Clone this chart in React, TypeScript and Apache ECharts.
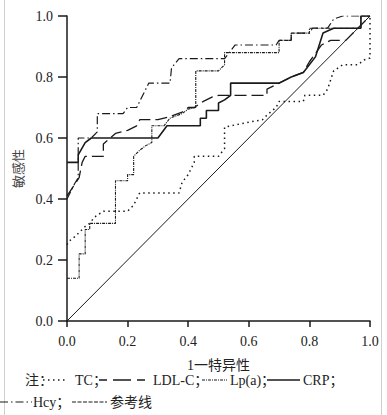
import React, { useEffect, useRef } from "react";
import * as echarts from "echarts";

// ROC points: [1 - specificity, sensitivity]
const tcRoc: number[][] = [
  [0, 0.25], [0.005, 0.26], [0.03, 0.28], [0.06, 0.31], [0.075, 0.32], [0.09, 0.34],
  [0.12, 0.36], [0.2, 0.36], [0.22, 0.38], [0.24, 0.42], [0.37, 0.42], [0.38, 0.455],
  [0.4, 0.48], [0.42, 0.52], [0.42, 0.54], [0.5, 0.54], [0.52, 0.565], [0.52, 0.635],
  [0.54, 0.64], [0.59, 0.65], [0.645, 0.66], [0.66, 0.675], [0.69, 0.7], [0.7, 0.72],
  [0.78, 0.72], [0.785, 0.74], [0.845, 0.74], [0.86, 0.76], [0.88, 0.82], [0.91, 0.84],
  [0.96, 0.84], [0.98, 0.856], [1, 0.862], [1, 1],
];
const ldlRoc: number[][] = [
  [0, 0.41], [0.02, 0.44], [0.04, 0.47], [0.05, 0.52], [0.06, 0.54], [0.12, 0.54],
  [0.12, 0.58], [0.16, 0.615], [0.2, 0.625], [0.23, 0.64], [0.24, 0.66], [0.3, 0.66],
  [0.34, 0.67], [0.38, 0.685], [0.4, 0.7], [0.42, 0.7], [0.45, 0.72], [0.48, 0.735],
  [0.5, 0.74], [0.66, 0.74], [0.66, 0.76], [0.7, 0.78], [0.74, 0.8], [0.78, 0.815],
  [0.8, 0.85], [0.84, 0.905], [0.87, 0.92], [0.92, 0.92], [1, 1],
];
const lpaRoc: number[][] = [
  [0, 0.14], [0.04, 0.14], [0.04, 0.22], [0.06, 0.22], [0.06, 0.3], [0.075, 0.3],
  [0.075, 0.32], [0.16, 0.32], [0.16, 0.46], [0.2, 0.46], [0.2, 0.48], [0.22, 0.48],
  [0.22, 0.54], [0.24, 0.56], [0.26, 0.575], [0.28, 0.585], [0.28, 0.64], [0.32, 0.64],
  [0.34, 0.665], [0.38, 0.68], [0.4, 0.695], [0.425, 0.7], [0.425, 0.82], [0.5, 0.82],
  [0.52, 0.84], [0.52, 0.88], [0.7, 0.88], [0.7, 0.92], [0.74, 0.92], [0.74, 0.944],
  [0.8, 0.944], [0.8, 0.96], [0.97, 0.96], [0.97, 1], [1, 1],
];
const crpRoc: number[][] = [
  [0, 0.52], [0.037, 0.52], [0.037, 0.545], [0.06, 0.585], [0.08, 0.6], [0.3, 0.6],
  [0.33, 0.64], [0.44, 0.64], [0.44, 0.665], [0.46, 0.665], [0.46, 0.69], [0.5, 0.69],
  [0.5, 0.715], [0.52, 0.725], [0.54, 0.74], [0.54, 0.78], [0.7, 0.78], [0.74, 0.8],
  [0.78, 0.815], [0.82, 0.866], [0.845, 0.944], [0.88, 0.96], [0.97, 0.96], [0.97, 1], [1, 1],
];
const hcyRoc: number[][] = [
  [0, 0.4], [0.01, 0.42], [0.025, 0.45], [0.037, 0.47], [0.037, 0.6], [0.08, 0.6],
  [0.1, 0.62], [0.1, 0.68], [0.185, 0.68], [0.2, 0.7], [0.23, 0.7], [0.25, 0.74],
  [0.27, 0.78], [0.34, 0.78], [0.345, 0.83], [0.37, 0.86], [0.52, 0.86], [0.555, 0.905],
  [0.69, 0.905], [0.7, 0.92], [0.74, 0.92], [0.74, 0.944], [0.8, 0.944], [0.81, 0.96],
  [0.86, 0.96], [0.88, 0.99], [0.91, 1], [1, 1],
];
const refLine: number[][] = [[0, 0], [1, 1]];

const SERIF = "'Liberation Serif', 'Noto Sans CJK SC', serif";
const INK = "#1a1a1a";

export default function App() {
  const ref = useRef<HTMLDivElement>(null);
  useEffect(() => {
    document.body.style.margin = "0";
    const chart = echarts.init(ref.current!, null, { renderer: "svg" });
    const mk = (name: string, data: number[][], type: any, width: number, z = 2) => ({
      name,
      type: "line",
      data,
      showSymbol: false,
      symbol: "none",
      z,
      lineStyle: { color: INK, width, type },
    });
    const txt = (text: string, x: number, y: number, size = 14) => ({
      type: "text",
      x,
      y,
      style: { text, fontSize: size, fontFamily: SERIF, fill: "#222", verticalAlign: "middle" },
    });
    const seg = (x1: number, x2: number, y: number, dash: any, width = 1.2) => ({
      type: "line",
      shape: { x1, y1: y, x2, y2: y },
      style: { stroke: INK, lineWidth: width, lineDash: dash },
    });
    chart.setOption({
      animation: false,
      backgroundColor: "#fff",
      grid: { left: 67, top: 16, right: 17, bottom: 94, containLabel: false },
      xAxis: {
        type: "value",
        min: 0,
        max: 1,
        interval: 0.2,
        name: "1一特异性",
        nameLocation: "middle",
        nameGap: 37,
        nameTextStyle: { fontSize: 14, fontFamily: SERIF, color: "#222" },
        axisLine: { lineStyle: { color: INK, width: 1.5 } },
        axisTick: { length: 6, lineStyle: { color: INK, width: 1.5 } },
        axisLabel: { margin: 13, fontSize: 14, fontFamily: SERIF, color: "#222", formatter: (v: number) => v.toFixed(1) },
        splitLine: { show: false },
      },
      yAxis: {
        type: "value",
        min: 0,
        max: 1,
        interval: 0.2,
        name: "敏感性",
        nameLocation: "middle",
        nameGap: 40,
        nameRotate: 90,
        nameTextStyle: { fontSize: 13, fontFamily: SERIF, color: "#444" },
        axisLine: { lineStyle: { color: INK, width: 1.5 } },
        axisTick: { length: 9, lineStyle: { color: INK, width: 1.5 } },
        axisLabel: { margin: 14, fontSize: 14, fontFamily: SERIF, color: "#222", formatter: (v: number) => v.toFixed(1) },
        splitLine: { show: false },
      },
      series: [
        mk("参考线", refLine, "solid", 1, 1),
        mk("TC", tcRoc, [1.5, 3.5], 1.5),
        mk("LDL-C", ldlRoc, [12, 5], 1.3),
        mk("Lp(a)", lpaRoc, [3, 1, 1, 1], 1.1),
        mk("Hcy", hcyRoc, [8, 3, 1.5, 3], 1.2),
        mk("CRP", crpRoc, "solid", 1.6, 3),
      ],
      graphic: [
        { type: "line", shape: { x1: 4.5, y1: 0, x2: 4.5, y2: 415 }, style: { stroke: "#cfcfcf", lineWidth: 1 } },
        { type: "line", shape: { x1: 381.5, y1: 0, x2: 381.5, y2: 415 }, style: { stroke: "#cfcfcf", lineWidth: 1 } },
        txt("注：", 25, 380),
        seg(43, 68, 380, [1.5, 3.5], 1.5),
        txt("TC；", 75, 380),
        seg(99, 148, 380, [8, 6, 18, 6], 1.3),
        txt("LDL-C；", 153, 380),
        seg(202, 227, 380, [3, 1, 1, 1], 1.1),
        txt("Lp(a)；", 230, 380),
        seg(267, 300, 380, "solid", 1.6),
        txt("CRP；", 303, 380),
        seg(0, 32, 402, [8, 3, 1.5, 3], 1.2),
        txt("Hcy；", 33, 402),
        seg(72, 107, 402, [4, 1.5], 1.1),
        txt("参考线", 110, 402),
      ],
    });
    return () => chart.dispose();
  }, []);
  return <div ref={ref} style={{ width: 387, height: 415 }} />;
}
